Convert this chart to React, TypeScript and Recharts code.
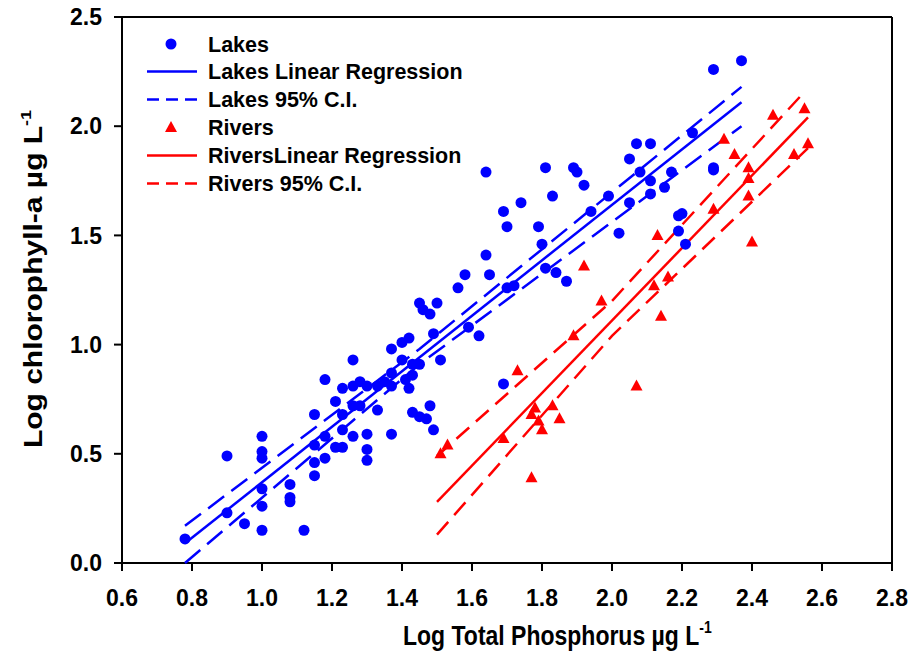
import { ScatterChart, Scatter, XAxis, YAxis, ReferenceLine } from "recharts";

const BLUE = "#0000ff";
const RED = "#ff0000";

const lakesTP = [
  0.78, 0.9, 0.9, 0.95, 1.0, 1.0, 1.0, 1.0, 1.0, 1.0, 1.08, 1.08, 1.08, 1.12, 1.15, 1.15, 1.15, 1.15,
  1.18, 1.18, 1.18, 1.21, 1.21, 1.23, 1.23, 1.23, 1.23, 1.26, 1.26, 1.26, 1.26, 1.28, 1.28, 1.3, 1.3,
  1.3, 1.3, 1.33, 1.33, 1.35, 1.37, 1.37, 1.37, 1.37, 1.4, 1.42, 1.4, 1.43, 1.45, 1.41, 1.43, 1.42,
  1.45, 1.46, 1.48, 1.5, 1.49, 1.51, 1.43, 1.45, 1.47, 1.48, 1.49, 1.56, 1.58, 1.59, 1.62, 1.64, 1.65,
  1.69, 1.7, 1.72, 1.64, 1.69, 1.7, 1.74, 1.79, 1.8, 1.81, 1.83, 1.81, 1.84, 1.87, 1.89, 1.9, 1.92,
  1.94, 1.99, 2.02, 2.05, 2.05, 2.07, 2.08, 2.11, 2.11, 2.11, 2.15, 2.17, 2.19, 2.2, 2.19, 2.21, 2.23,
  2.29, 2.29, 2.29, 2.37,
];
const lakesChl = [
  0.11, 0.49, 0.23, 0.18, 0.58, 0.51, 0.48, 0.34, 0.26, 0.15, 0.36, 0.3, 0.28, 0.15, 0.68, 0.54, 0.46, 0.4,
  0.84, 0.58, 0.48, 0.74, 0.53, 0.8, 0.68, 0.61, 0.53, 0.93, 0.81, 0.72, 0.58, 0.83, 0.72, 0.81, 0.59,
  0.52, 0.47, 0.81, 0.7, 0.83, 0.98, 0.87, 0.81, 0.59, 1.01, 1.03, 0.93, 0.91, 0.91, 0.84, 0.86, 0.8,
  1.19, 1.16, 1.14, 1.19, 1.05, 0.93, 0.69, 0.67, 0.66, 0.72, 0.61, 1.26, 1.32, 1.08, 1.04, 1.41, 1.32,
  0.82, 1.26, 1.27, 1.79, 1.61, 1.54, 1.65, 1.54, 1.46, 1.81, 1.68, 1.35, 1.33, 1.29, 1.81, 1.79, 1.73,
  1.61, 1.68, 1.51, 1.85, 1.65, 1.92, 1.79, 1.92, 1.75, 1.69, 1.72, 1.79, 1.59, 1.6, 1.52, 1.46, 1.97,
  2.26, 1.81, 1.8, 2.3,
];

const riversTP = [
  1.51, 1.53, 1.69, 1.73, 1.77, 1.77, 1.78, 1.79, 1.8, 1.83, 1.85, 1.89, 1.92, 1.97, 2.07, 2.12, 2.13,
  2.14, 2.16, 2.29, 2.32, 2.35, 2.39, 2.39, 2.39, 2.4, 2.46, 2.52, 2.55, 2.56,
];
const riversChl = [
  0.5, 0.54, 0.57, 0.88, 0.68, 0.39, 0.71, 0.65, 0.61, 0.72, 0.66, 1.04, 1.36, 1.2, 0.81, 1.27, 1.5,
  1.13, 1.31, 1.62, 1.94, 1.87, 1.81, 1.76, 1.68, 1.47, 2.05, 1.87, 2.08, 1.92,
];

const lakesFitTP = [0.78, 2.37];
const lakesFitChl = [0.09, 2.11];
const lakesUpperTP = [0.78, 1.45, 2.37];
const lakesUpperChl = [0.17, 0.98, 2.18];
const lakesLowerTP = [0.78, 1.45, 2.37];
const lakesLowerChl = [0.0, 0.91, 2.0];

const riversFitTP = [1.5, 2.56];
const riversFitChl = [0.28, 2.04];
const riversUpperTP = [1.5, 2.0, 2.54];
const riversUpperChl = [0.49, 1.2, 2.14];
const riversLowerTP = [1.5, 2.0, 2.56];
const riversLowerChl = [0.13, 1.04, 1.9];

const xTicks = [0.6, 0.8, 1.0, 1.2, 1.4, 1.6, 1.8, 2.0, 2.2, 2.4, 2.6, 2.8];
const yTicks = [0, 0.5, 1.0, 1.5, 2.0, 2.5];

const pts = (xs: number[], ys: number[]) => xs.map((x, i) => ({ x, y: ys[i] }));

const FONT = "Arial, 'Liberation Sans', sans-serif";

const Dot = (p: any) => <circle cx={p.cx} cy={p.cy} r={5.5} fill={BLUE} />;
const Tri = (p: any) => (
  <polygon
    points={`${p.cx},${p.cy - 6.5} ${p.cx - 6},${p.cy + 4.5} ${p.cx + 6},${p.cy + 4.5}`}
    fill={RED}
  />
);
const NoShape = () => <g />;

const tickStyle = { fontSize: 23, fontWeight: 700, fill: "#000", fontFamily: FONT };

const legendRows = [
  { label: "Lakes", kind: "dot" },
  { label: "Lakes Linear Regression", kind: "blueLine" },
  { label: "Lakes 95% C.I.", kind: "blueDash" },
  { label: "Rivers", kind: "tri" },
  { label: "RiversLinear Regression", kind: "redLine" },
  { label: "Rivers 95% C.I.", kind: "redDash" },
];
const legendY = [44, 71.5, 99.5, 127.5, 155.5, 183.5];

function LegendIcon({ kind, y }: { kind: string; y: number }) {
  if (kind === "dot") return <circle cx={171} cy={y} r={5.5} fill={BLUE} />;
  if (kind === "tri")
    return <polygon points={`171,${y - 6.5} 165,${y + 4.5} 177,${y + 4.5}`} fill={RED} />;
  const color = kind.startsWith("blue") ? BLUE : RED;
  const dash = kind.endsWith("Dash") ? "12 7" : undefined;
  return <line x1={147} x2={197} y1={y} y2={y} stroke={color} strokeWidth={2.5} strokeDasharray={dash} />;
}

export default function App() {
  return (
    <div style={{ position: "absolute", left: 0, top: 0, width: 914, height: 667, background: "#fff" }}>
      <ScatterChart width={914} height={667} margin={{ top: 17, right: 22, bottom: 0, left: 0 }}>
        <XAxis
          type="number"
          dataKey="x"
          domain={[0.6, 2.8]}
          ticks={xTicks}
          interval={0}
          height={104}
          tickSize={8}
          tickMargin={19}
          tick={tickStyle}
          tickFormatter={(v: number) => v.toFixed(1)}
          axisLine={{ stroke: "#000", strokeWidth: 2 }}
          tickLine={{ stroke: "#000", strokeWidth: 2 }}
        />
        <YAxis
          type="number"
          dataKey="y"
          domain={[0, 2.5]}
          ticks={yTicks}
          interval={0}
          width={122}
          tickSize={8}
          tickMargin={12}
          tick={tickStyle}
          tickFormatter={(v: number) => v.toFixed(1)}
          axisLine={{ stroke: "#000", strokeWidth: 2 }}
          tickLine={{ stroke: "#000", strokeWidth: 2 }}
        />
        <ReferenceLine y={2.5} stroke="#000" strokeWidth={2} />
        <ReferenceLine x={2.8} stroke="#000" strokeWidth={2} />

        <Scatter data={pts(lakesUpperTP, lakesUpperChl)} shape={NoShape} line={{ stroke: BLUE, strokeWidth: 2.5, strokeDasharray: "20 9" }} isAnimationActive={false} />
        <Scatter data={pts(lakesLowerTP, lakesLowerChl)} shape={NoShape} line={{ stroke: BLUE, strokeWidth: 2.5, strokeDasharray: "20 9" }} isAnimationActive={false} />
        <Scatter data={pts(lakesFitTP, lakesFitChl)} shape={NoShape} line={{ stroke: BLUE, strokeWidth: 2.5 }} isAnimationActive={false} />
        <Scatter data={pts(riversUpperTP, riversUpperChl)} shape={NoShape} line={{ stroke: RED, strokeWidth: 2.5, strokeDasharray: "17 9" }} isAnimationActive={false} />
        <Scatter data={pts(riversLowerTP, riversLowerChl)} shape={NoShape} line={{ stroke: RED, strokeWidth: 2.5, strokeDasharray: "17 9" }} isAnimationActive={false} />
        <Scatter data={pts(riversFitTP, riversFitChl)} shape={NoShape} line={{ stroke: RED, strokeWidth: 2.5 }} isAnimationActive={false} />

        <Scatter data={pts(lakesTP, lakesChl)} shape={Dot} isAnimationActive={false} />
        <Scatter data={pts(riversTP, riversChl)} shape={Tri} isAnimationActive={false} />
      </ScatterChart>

      <svg width={914} height={667} style={{ position: "absolute", left: 0, top: 0, pointerEvents: "none" }}>
        {legendRows.map((r, i) => (
          <g key={r.label}>
            <LegendIcon kind={r.kind} y={legendY[i]} />
            <text x={208} y={legendY[i] + 7.5} fontSize={21.5} fontWeight={700} fontFamily={FONT} fill="#000">
              {r.label}
            </text>
          </g>
        ))}
        <text transform="translate(403,645) scale(1,1.2)" fontSize={23} fontWeight={700} fontFamily={FONT} fill="#000">
          Log Total Phosphorus µg L
          <tspan fontSize={14} dy={-10}>-1</tspan>
        </text>
        <text
          transform="translate(42,279) rotate(-90) scale(1.2,1)"
          textAnchor="middle"
          fontSize={25}
          fontWeight={700}
          fontFamily={FONT}
          fill="#000"
        >
          Log chlorophyll-a µg L
          <tspan fontSize={15} dy={-11}>-1</tspan>
        </text>
      </svg>
    </div>
  );
}
